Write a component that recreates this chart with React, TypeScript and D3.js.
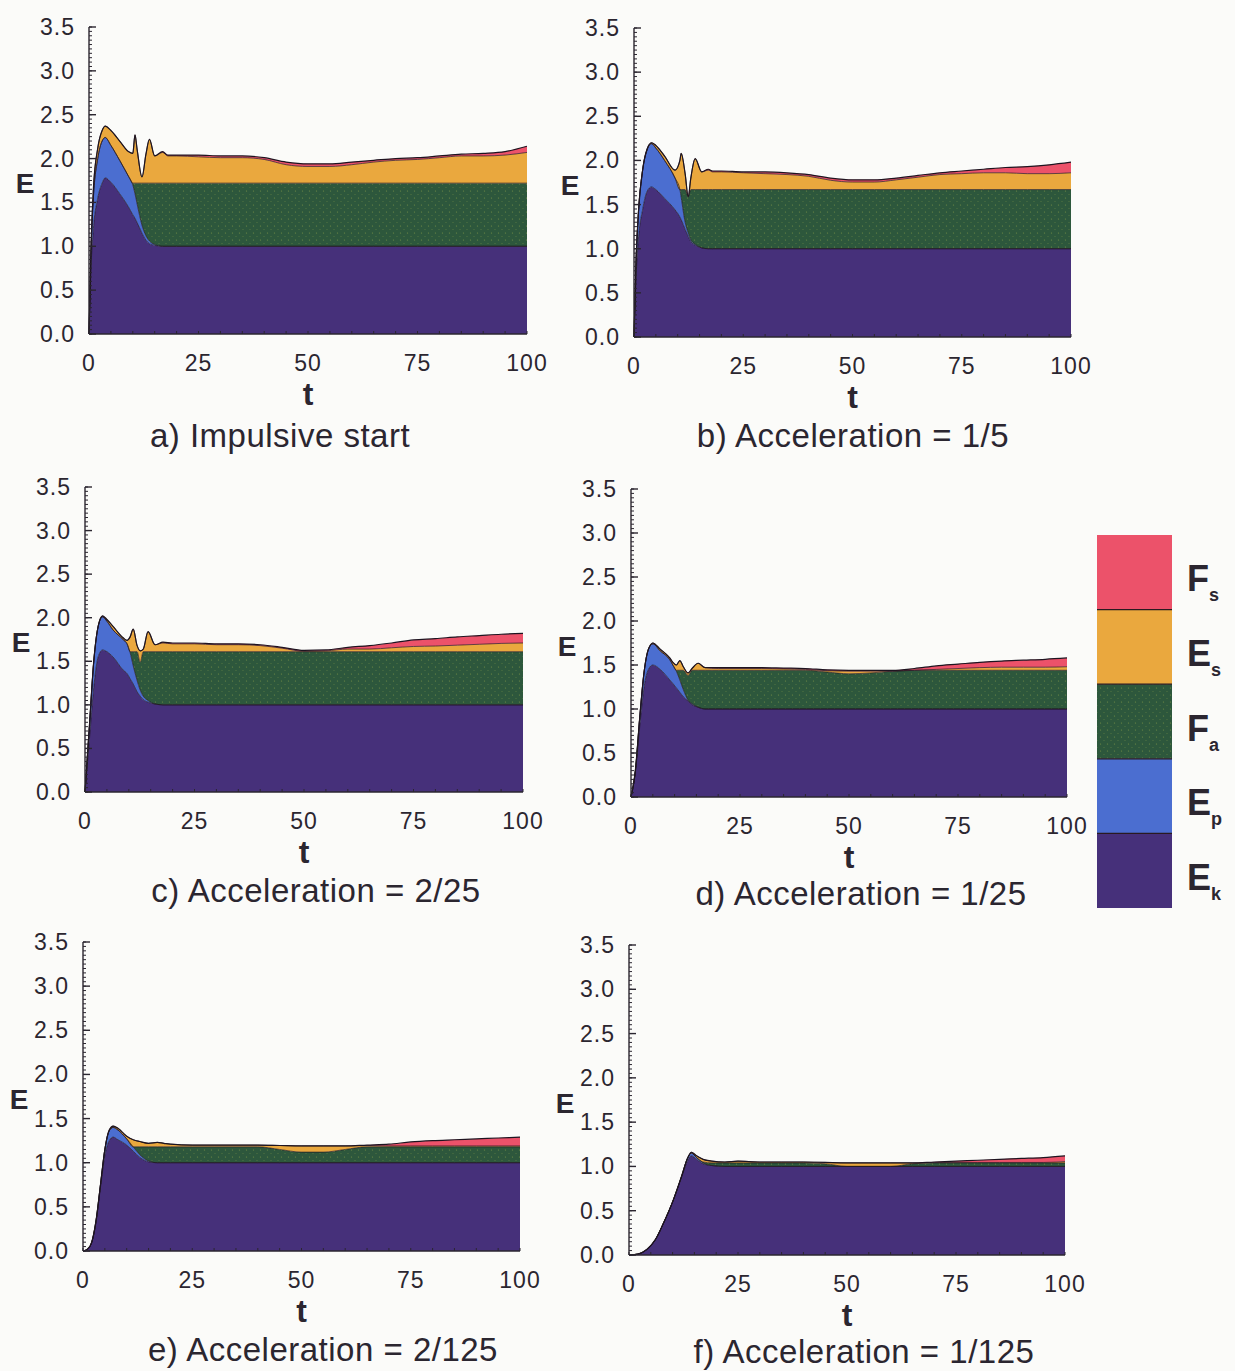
import * as d3 from "d3";

const KEYS = ["ek", "ep", "fa", "es", "fs"];
const COLORS: Record<string, string> = {
  ek: "#46307a",
  ep: "#4b6ed0",
  fa: "#2d573c",
  es: "#eaa83e",
  fs: "#ec526a",
};
const LEGEND = [
  { key: "fs", main: "F", sub: "s" },
  { key: "es", main: "E", sub: "s" },
  { key: "fa", main: "F", sub: "a" },
  { key: "ep", main: "E", sub: "p" },
  { key: "ek", main: "E", sub: "k" },
];
const X_TICKS = [0, 25, 50, 75, 100];

// a) impulsive start
const tA = [0, 0.5, 1, 2, 3, 3.7, 5, 7, 9, 10, 10.5, 11, 12.1, 13, 13.8, 15, 16.8, 18, 20, 25, 30, 35, 40, 45, 50, 55, 60, 65, 70, 75, 80, 85, 90, 95, 100];
const ekA = [0, 0.8, 1.2, 1.55, 1.72, 1.78, 1.73, 1.6, 1.45, 1.36, 1.32, 1.27, 1.15, 1.07, 1.03, 1.01, 1, 1, 1, 1, 1, 1, 1, 1, 1, 1, 1, 1, 1, 1, 1, 1, 1, 1, 1];
const epA = [0, 0.2, 0.35, 0.45, 0.48, 0.46, 0.42, 0.38, 0.35, 0.34, 0.28, 0.21, 0.09, 0.05, 0.03, 0.01, 0, 0, 0, 0, 0, 0, 0, 0, 0, 0, 0, 0, 0, 0, 0, 0, 0, 0, 0];
const faA = [0, 0, 0, 0, 0, 0, 0, 0, 0, 0.02, 0.12, 0.24, 0.48, 0.6, 0.66, 0.7, 0.72, 0.72, 0.72, 0.72, 0.72, 0.72, 0.72, 0.72, 0.72, 0.72, 0.72, 0.72, 0.72, 0.72, 0.72, 0.72, 0.72, 0.72, 0.72];
const esA = [0, 0.05, 0.1, 0.12, 0.12, 0.13, 0.17, 0.22, 0.28, 0.34, 0.55, 0.38, 0.07, 0.33, 0.5, 0.31, 0.35, 0.31, 0.31, 0.3, 0.29, 0.29, 0.27, 0.21, 0.19, 0.19, 0.21, 0.24, 0.26, 0.27, 0.29, 0.31, 0.31, 0.32, 0.35];
const fsA = [0, 0, 0, 0, 0, 0, 0, 0, 0, 0, 0, 0, 0, 0, 0, 0, 0.01, 0.01, 0.01, 0.02, 0.02, 0.02, 0.02, 0.03, 0.03, 0.03, 0.03, 0.02, 0.02, 0.02, 0.02, 0.02, 0.03, 0.04, 0.07];

// b) acceleration 1/5
const tB = [0, 0.5, 1, 2, 3, 4, 5, 7, 9.4, 10.5, 10.8, 11.7, 12.4, 13, 14, 15.5, 17, 18, 20, 25, 30, 35, 40, 45, 50, 55, 60, 65, 70, 75, 80, 85, 90, 95, 100];
const ekB = [0, 0.7, 1.1, 1.45, 1.65, 1.7, 1.67, 1.57, 1.44, 1.36, 1.33, 1.22, 1.14, 1.08, 1.04, 1.01, 1, 1, 1, 1, 1, 1, 1, 1, 1, 1, 1, 1, 1, 1, 1, 1, 1, 1, 1];
const epB = [0, 0.2, 0.3, 0.45, 0.47, 0.49, 0.47, 0.43, 0.36, 0.31, 0.25, 0.08, 0.04, 0.02, 0.01, 0, 0, 0, 0, 0, 0, 0, 0, 0, 0, 0, 0, 0, 0, 0, 0, 0, 0, 0, 0];
const faB = [0, 0, 0, 0, 0, 0, 0, 0, 0, 0, 0.09, 0.37, 0.41, 0.57, 0.62, 0.66, 0.67, 0.67, 0.67, 0.67, 0.67, 0.67, 0.67, 0.67, 0.67, 0.67, 0.67, 0.67, 0.67, 0.67, 0.67, 0.67, 0.67, 0.67, 0.67];
const esB = [0, 0, 0, 0, 0.01, 0.01, 0.03, 0.05, 0.09, 0.33, 0.41, 0.18, 0, 0.13, 0.35, 0.2, 0.22, 0.2, 0.2, 0.19, 0.18, 0.17, 0.15, 0.105, 0.085, 0.085, 0.11, 0.14, 0.17, 0.18, 0.19, 0.19, 0.18, 0.18, 0.19];
const fsB = [0, 0, 0, 0, 0, 0, 0, 0, 0, 0, 0, 0, 0, 0, 0, 0, 0.01, 0.01, 0.01, 0.01, 0.02, 0.02, 0.02, 0.025, 0.025, 0.025, 0.02, 0.02, 0.02, 0.03, 0.04, 0.06, 0.08, 0.1, 0.12];

// c) acceleration 2/25
const tC = [0, 1, 2, 3, 4, 5, 6.4, 8.7, 9.6, 10.3, 11, 11.9, 12.6, 13.3, 14.4, 16, 17.8, 20, 25, 30, 35, 40, 45, 50, 55, 60, 65, 70, 75, 80, 85, 90, 95, 100];
const ekC = [0, 0.6, 1.2, 1.55, 1.63, 1.61, 1.55, 1.4, 1.36, 1.3, 1.24, 1.15, 1.1, 1.06, 1.03, 1.01, 1, 1, 1, 1, 1, 1, 1, 1, 1, 1, 1, 1, 1, 1, 1, 1, 1, 1];
const epC = [0, 0.15, 0.3, 0.35, 0.38, 0.35, 0.31, 0.35, 0.34, 0.3, 0.21, 0.13, 0.07, 0.04, 0.02, 0, 0, 0, 0, 0, 0, 0, 0, 0, 0, 0, 0, 0, 0, 0, 0, 0, 0, 0];
const faC = [0, 0, 0, 0, 0, 0, 0, 0, 0, 0.01, 0.16, 0.33, 0.32, 0.51, 0.56, 0.6, 0.61, 0.61, 0.61, 0.61, 0.61, 0.61, 0.61, 0.61, 0.61, 0.61, 0.61, 0.61, 0.61, 0.61, 0.61, 0.61, 0.61, 0.61];
const esC = [0, 0, 0, 0, 0.01, 0.02, 0.04, 0.02, 0.04, 0.17, 0.26, 0.07, 0.13, 0.03, 0.23, 0.08, 0.1, 0.09, 0.09, 0.08, 0.08, 0.07, 0.04, 0.005, 0.01, 0.03, 0.03, 0.045, 0.06, 0.065, 0.075, 0.085, 0.095, 0.1];
const fsC = [0, 0, 0, 0, 0, 0, 0, 0, 0, 0, 0, 0, 0, 0, 0, 0, 0.01, 0.01, 0.01, 0.01, 0.01, 0.01, 0.01, 0.01, 0.01, 0.02, 0.04, 0.055, 0.075, 0.085, 0.095, 0.1, 0.105, 0.11];

// d) acceleration 1/25
const tD = [0, 1, 2, 3, 4, 5, 6.7, 8.9, 9.6, 10.4, 11.2, 12, 13.1, 14, 15.4, 17, 20, 25, 30, 35, 40, 45, 50, 55, 60, 65, 70, 75, 80, 85, 90, 95, 100];
const ekD = [0, 0.28, 0.8, 1.25, 1.45, 1.5, 1.45, 1.33, 1.29, 1.24, 1.19, 1.14, 1.09, 1.05, 1.02, 1, 1, 1, 1, 1, 1, 1, 1, 1, 1, 1, 1, 1, 1, 1, 1, 1, 1];
const epD = [0, 0.02, 0.1, 0.17, 0.23, 0.24, 0.21, 0.23, 0.21, 0.19, 0.14, 0.08, 0.01, 0.01, 0, 0, 0, 0, 0, 0, 0, 0, 0, 0, 0, 0, 0, 0, 0, 0, 0, 0, 0];
const faD = [0, 0, 0, 0, 0, 0, 0, 0, 0, 0.01, 0.11, 0.22, 0.28, 0.38, 0.42, 0.44, 0.44, 0.44, 0.44, 0.44, 0.44, 0.42, 0.4, 0.41, 0.43, 0.44, 0.44, 0.44, 0.44, 0.44, 0.44, 0.44, 0.44];
const esD = [0, 0, 0, 0, 0, 0.01, 0.02, 0.02, 0.03, 0.06, 0.11, 0.04, 0.03, 0.02, 0.08, 0.03, 0.02, 0.02, 0.02, 0.015, 0.01, 0.015, 0.03, 0.02, 0, 0, 0.01, 0.02, 0.03, 0.035, 0.035, 0.035, 0.04];
const fsD = [0, 0, 0, 0, 0, 0, 0, 0, 0, 0, 0, 0, 0, 0, 0, 0, 0.01, 0.01, 0.01, 0.01, 0.01, 0.01, 0.01, 0.01, 0.01, 0.02, 0.04, 0.05, 0.06, 0.07, 0.08, 0.09, 0.1];

// e) acceleration 2/125
const tE = [0, 1, 2, 3, 4, 5, 6, 6.9, 8, 10, 11.5, 13, 15, 17, 18.5, 20, 25, 30, 35, 40, 45, 50, 55, 60, 65, 70, 75, 80, 85, 90, 95, 100];
const ekE = [0, 0.02, 0.1, 0.33, 0.72, 1.08, 1.25, 1.29, 1.26, 1.2, 1.13, 1.06, 1.01, 1, 1, 1, 1, 1, 1, 1, 1, 1, 1, 1, 1, 1, 1, 1, 1, 1, 1, 1];
const epE = [0, 0, 0, 0.02, 0.03, 0.07, 0.11, 0.11, 0.11, 0.07, 0.05, 0.03, 0.01, 0, 0, 0, 0, 0, 0, 0, 0, 0, 0, 0, 0, 0, 0, 0, 0, 0, 0, 0];
const faE = [0, 0, 0, 0, 0, 0, 0, 0, 0, 0, 0, 0.09, 0.16, 0.18, 0.18, 0.18, 0.18, 0.18, 0.18, 0.18, 0.15, 0.12, 0.12, 0.15, 0.18, 0.18, 0.18, 0.18, 0.18, 0.18, 0.18, 0.18];
const esE = [0, 0, 0, 0, 0, 0, 0.01, 0.015, 0.02, 0.03, 0.08, 0.06, 0.04, 0.05, 0.04, 0.03, 0.02, 0.02, 0.02, 0.02, 0.045, 0.07, 0.07, 0.04, 0.015, 0.01, 0.01, 0.01, 0.01, 0.01, 0.01, 0.01];
const fsE = [0, 0, 0, 0, 0, 0, 0, 0, 0, 0, 0, 0, 0, 0, 0, 0, 0, 0, 0, 0, 0, 0, 0, 0, 0.005, 0.02, 0.045, 0.06, 0.07, 0.08, 0.09, 0.1];

// f) acceleration 1/125
const tF = [0, 2, 4, 6, 8, 10, 12, 13.5, 14.3, 15.5, 17, 19, 22, 25, 30, 35, 40, 45, 50, 55, 60, 65, 70, 75, 80, 85, 90, 95, 100];
const ekF = [0, 0.01, 0.06, 0.17, 0.37, 0.6, 0.87, 1.07, 1.12, 1.08, 1.03, 1.01, 1, 1, 1, 1, 1, 1, 1, 1, 1, 1, 1, 1, 1, 1, 1, 1, 1];
const epF = [0, 0, 0, 0, 0, 0, 0.01, 0.03, 0.03, 0.02, 0.01, 0, 0, 0, 0, 0, 0, 0, 0, 0, 0, 0, 0, 0, 0, 0, 0, 0, 0];
const faF = [0, 0, 0, 0, 0, 0, 0, 0, 0, 0, 0.01, 0.03, 0.04, 0.04, 0.04, 0.04, 0.04, 0.03, 0, 0, 0, 0.03, 0.04, 0.04, 0.04, 0.04, 0.04, 0.04, 0.04];
const esF = [0, 0, 0, 0, 0, 0, 0, 0, 0.01, 0.02, 0.03, 0.02, 0.01, 0.02, 0.01, 0.01, 0.01, 0.015, 0.04, 0.04, 0.04, 0.01, 0.005, 0.005, 0.005, 0.005, 0.005, 0.005, 0.015];
const fsF = [0, 0, 0, 0, 0, 0, 0, 0, 0, 0, 0, 0, 0, 0, 0, 0, 0, 0, 0, 0, 0, 0, 0.005, 0.015, 0.025, 0.035, 0.045, 0.055, 0.065];

const PANELS = [
  { title: "a) Impulsive start", t: tA, ek: ekA, ep: epA, fa: faA, es: esA, fs: fsA, x0: 89, x1: 527, y0: 334, y1: 27, tx: 280, ty: 447 },
  { title: "b) Acceleration = 1/5", t: tB, ek: ekB, ep: epB, fa: faB, es: esB, fs: fsB, x0: 634, x1: 1071, y0: 337, y1: 28, tx: 853, ty: 447 },
  { title: "c) Acceleration = 2/25", t: tC, ek: ekC, ep: epC, fa: faC, es: esC, fs: fsC, x0: 85, x1: 523, y0: 792, y1: 487, tx: 316, ty: 902 },
  { title: "d) Acceleration = 1/25", t: tD, ek: ekD, ep: epD, fa: faD, es: esD, fs: fsD, x0: 631, x1: 1067, y0: 797, y1: 489, tx: 861, ty: 905 },
  { title: "e) Acceleration = 2/125", t: tE, ek: ekE, ep: epE, fa: faE, es: esE, fs: fsE, x0: 83, x1: 520, y0: 1251, y1: 942, tx: 323, ty: 1361 },
  { title: "f) Acceleration = 1/125", t: tF, ek: ekF, ep: epF, fa: faF, es: esF, fs: fsF, x0: 629, x1: 1065, y0: 1255, y1: 945, tx: 864, ty: 1363 },
];

const FONT = "'Liberation Sans', Arial, Helvetica, sans-serif";
const INK = "#2b2630";
const fmt = d3.format(".1f");

function fillFor(key: string) {
  return key === "fa" ? "url(#faTex)" : COLORS[key];
}

function Panel({ p }: { p: any }) {
  const x = d3.scaleLinear().domain([0, 100]).range([p.x0, p.x1]);
  const y = d3.scaleLinear().domain([0, 3.5]).range([p.y0, p.y1]);

  const rows = p.t.map((t: number, i: number) => ({
    t,
    ek: p.ek[i],
    ep: p.ep[i],
    fa: p.fa[i],
    es: p.es[i],
    fs: p.fs[i],
  }));
  const series = d3.stack().keys(KEYS)(rows);

  const area = d3
    .area<any>()
    .x((d) => x(d.data.t))
    .y0((d) => y(d[0]))
    .y1((d) => y(d[1]))
    .curve(d3.curveMonotoneX);
  const edge = d3
    .line<any>()
    .x((d) => x(d.data.t))
    .y((d) => y(d[1]))
    .curve(d3.curveMonotoneX);

  const minor = d3.range(0, 3.5001, 0.05);
  const major = y.ticks(7);
  const xMinor = d3.range(0, 100.001, 5);

  return (
    <g>
      {series.map((s: any) => (
        <path key={s.key} d={area(s) ?? ""} fill={fillFor(s.key)} />
      ))}
      {series.map((s: any) =>
        s.key === "ek" ? null : (
          <path
            key={`e-${s.key}`}
            d={edge(series[s.index - 1]) ?? ""}
            fill="none"
            stroke="#1e1420"
            strokeWidth={0.9}
            strokeOpacity={0.75}
          />
        )
      )}
      <path d={edge(series[4]) ?? ""} fill="none" stroke="#1e1420" strokeWidth={1.2} />

      {/* left axis */}
      <line x1={p.x0} x2={p.x0} y1={y(0)} y2={y(3.5)} stroke={INK} strokeWidth={1.4} />
      {minor.map((v) => (
        <line key={`m${v}`} x1={p.x0} x2={p.x0 + 3} y1={y(v)} y2={y(v)} stroke={INK} strokeWidth={1} />
      ))}
      {major.map((v) => (
        <g key={`M${v}`}>
          <line x1={p.x0} x2={p.x0 + 7} y1={y(v)} y2={y(v)} stroke={INK} strokeWidth={1.4} />
          <text
            x={p.x0 - 14}
            y={y(v) + 8}
            textAnchor="end"
            fontSize={23}
            letterSpacing={1}
            fontFamily={FONT}
            fill={INK}
          >
            {fmt(v)}
          </text>
        </g>
      ))}

      {/* bottom axis */}
      <line x1={p.x0} x2={p.x1} y1={y(0)} y2={y(0)} stroke={INK} strokeWidth={1.6} />
      {xMinor.map((v) => (
        <line key={`xm${v}`} x1={x(v)} x2={x(v)} y1={y(0)} y2={y(0) - 3} stroke={INK} strokeWidth={1} />
      ))}
      {X_TICKS.map((v) => (
        <text
          key={`xt${v}`}
          x={x(v)}
          y={p.y0 + 37}
          textAnchor="middle"
          fontSize={23}
          letterSpacing={1}
          fontFamily={FONT}
          fill={INK}
        >
          {v}
        </text>
      ))}

      <text x={p.x0 - 64} y={y(1.72) + 10} textAnchor="middle" fontSize={28} fontWeight="bold" fontFamily={FONT} fill={INK}>
        E
      </text>
      <text x={x(50)} y={p.y0 + 71} textAnchor="middle" fontSize={32} fontWeight="bold" fontFamily={FONT} fill={INK}>
        t
      </text>
      <text x={p.tx} y={p.ty} textAnchor="middle" fontSize={33} letterSpacing={0.5} fontFamily={FONT} fill={INK}>
        {p.title}
      </text>
    </g>
  );
}

function Legend() {
  const band = d3.scaleBand().domain(LEGEND.map((d) => d.key)).range([535, 908]);
  return (
    <g>
      {LEGEND.map((d) => {
        const top = band(d.key) ?? 0;
        const mid = top + band.bandwidth() / 2;
        return (
          <g key={d.key}>
            <rect x={1097} y={top} width={75} height={band.bandwidth()} fill={fillFor(d.key)} />
            <text x={1187} y={mid + 19} fontSize={36} fontWeight="bold" fontFamily={FONT} fill={INK}>
              {d.main}
              <tspan fontSize={18} dy={10}>
                {d.sub}
              </tspan>
            </text>
          </g>
        );
      })}
      {LEGEND.slice(1).map((d) => (
        <line
          key={`sep-${d.key}`}
          x1={1097}
          x2={1172}
          y1={band(d.key)}
          y2={band(d.key)}
          stroke="#2a1a20"
          strokeWidth={1.2}
        />
      ))}
    </g>
  );
}

export default function App() {
  return (
    <svg
      width={1235}
      height={1371}
      viewBox="0 0 1235 1371"
      style={{ position: "absolute", left: 0, top: 0 }}
    >
      <defs>
        <pattern id="faTex" width={7} height={7} patternUnits="userSpaceOnUse">
          <rect width={7} height={7} fill={COLORS.fa} />
          <circle cx={1.5} cy={2} r={0.6} fill="#a8b84a" opacity={0.55} />
          <circle cx={5} cy={5.5} r={0.5} fill="#a8b84a" opacity={0.4} />
        </pattern>
      </defs>
      <rect width={1235} height={1371} fill="#fbfbf9" />
      {PANELS.map((p) => (
        <Panel key={p.title} p={p} />
      ))}
      <Legend />
    </svg>
  );
}
